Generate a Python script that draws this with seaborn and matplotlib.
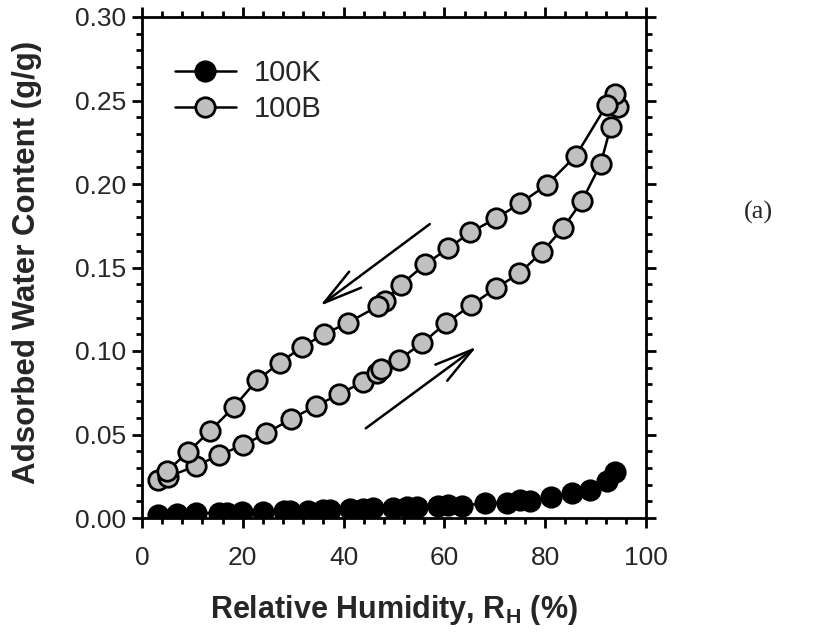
import matplotlib
matplotlib.use("Agg")
import matplotlib.pyplot as plt
import seaborn as sns
import pandas as pd
import numpy as np

# ---------------- data ----------------
rh_100K = [3.2, 6.9, 10.8, 15.2, 16.8, 19.8, 24.1, 28.1, 29.4, 33.0, 36.0, 37.3,
           41.3, 43.9, 45.9, 49.9, 52.5, 54.5, 58.8, 60.8, 63.4, 68.1, 72.4, 75.0,
           77.0, 81.1, 85.3, 88.9, 92.3, 93.8]
w_100K = [0.0020, 0.0025, 0.0028, 0.0030, 0.0032, 0.0034, 0.0037, 0.0040, 0.0042,
          0.0044, 0.0047, 0.0049, 0.0051, 0.0054, 0.0057, 0.0060, 0.0065, 0.0068,
          0.0070, 0.0075, 0.0072, 0.0090, 0.0088, 0.0105, 0.0104, 0.0124, 0.0148,
          0.0168, 0.0222, 0.0274]

rh_100B = [3.2, 5.2, 10.8, 15.3, 20.1, 24.6, 29.6, 34.5, 39.1, 43.9, 46.6, 47.4,
           50.9, 55.5, 60.4, 65.3, 70.2, 74.9, 79.3, 83.5, 87.3, 91.0, 93.0, 94.5,
           93.8,
           92.2, 86.1, 80.3, 75.0, 70.3, 65.1, 60.8, 56.2, 51.3, 48.2, 46.9, 40.9,
           36.1, 31.7, 27.3, 22.8, 18.3, 13.5, 9.2, 4.9]
w_100B = [0.0228, 0.0247, 0.0313, 0.0377, 0.0437, 0.0507, 0.0593, 0.0671, 0.0741,
          0.0816, 0.0870, 0.0890, 0.0946, 0.1046, 0.1168, 0.1275, 0.1375, 0.1467,
          0.1590, 0.1735, 0.1898, 0.2120, 0.2343, 0.2463, 0.2540,
          0.2473, 0.2170, 0.1994, 0.1884, 0.1795, 0.1710, 0.1615, 0.1520, 0.1395,
          0.1300, 0.1270, 0.1170, 0.1100, 0.1024, 0.0928, 0.0825, 0.0667, 0.0521,
          0.0397, 0.0279]

series_labels = ["100K", "100B"]
x_ticks = [0, 20, 40, 60, 80, 100]
y_ticks = [0.00, 0.05, 0.10, 0.15, 0.20, 0.25, 0.30]

# arrows (data coords): (start, end)
arrow_desorb = ((57.1, 0.176), (35.3, 0.127))
arrow_adsorb = ((44.4, 0.0537), (66.4, 0.1026))

# ---------------- style ----------------
sns.set_theme(style="ticks")
plt.rcParams["font.family"] = ["Liberation Sans", "DejaVu Sans"]
plt.rcParams["mathtext.fontset"] = "custom"
plt.rcParams["mathtext.rm"] = "Liberation Sans"
plt.rcParams["mathtext.bf"] = "Liberation Sans:bold"

fig = plt.figure(figsize=(8.22, 6.34), dpi=100)
ax = fig.add_axes([142 / 822, 1 - 518 / 634, (646 - 142) / 822, (518 - 17) / 634])

df_k = pd.DataFrame({"RH": rh_100K, "W": w_100K})
df_b = pd.DataFrame({"RH": rh_100B, "W": w_100B})

ms = 14
sns.lineplot(data=df_b, x="RH", y="W", sort=False, ax=ax, color="black", lw=1.8,
             marker="o", markersize=ms, markerfacecolor="#C0C0C0",
             markeredgecolor="black", markeredgewidth=2.0, label=series_labels[1],
             zorder=3)
sns.lineplot(data=df_k, x="RH", y="W", sort=False, ax=ax, color="black", lw=1.8,
             marker="o", markersize=ms, markerfacecolor="black",
             markeredgecolor="black", markeredgewidth=2.0, label=series_labels[0],
             zorder=4)

ax.set_xlim(0, 100)
ax.set_ylim(0, 0.30)
ax.set_xticks(x_ticks)
ax.set_yticks(y_ticks)
ax.set_xticklabels([str(t) for t in x_ticks])
ax.set_yticklabels([f"{t:.2f}" for t in y_ticks])
ax.set_xticks(np.arange(0, 101, 4), minor=True)
ax.set_yticks(np.arange(0, 0.3001, 0.01), minor=True)

for sp in ax.spines.values():
    sp.set_linewidth(2.0)
    sp.set_color("black")

ax.tick_params(axis="both", which="both", direction="out", top=True, right=True,
               color="black", width=2.0)
ax.tick_params(axis="both", which="major", length=7.5, labelsize=19)
ax.tick_params(axis="both", which="minor", length=4.5)
ax.tick_params(axis="y", which="major", pad=4)
ax.tick_params(axis="x", which="major", pad=13)

ax.set_xlabel(r"Relative Humidity, R$_\mathbf{H}$ (%)", fontsize=22, fontweight="bold")
ax.set_ylabel("Adsorbed Water Content (g/g)", fontsize=22.5, fontweight="bold")
ax.xaxis.set_label_coords(0.5, -0.150)
ax.yaxis.set_label_coords(-0.198, 0.51)

# legend
handles, labels = ax.get_legend_handles_labels()
order = [labels.index(series_labels[0]), labels.index(series_labels[1])]
leg = ax.legend([handles[i] for i in order], [labels[i] for i in order],
                loc="upper left", frameon=False, fontsize=21, handlelength=2.1,
                handletextpad=0.6, labelspacing=0.29, borderpad=0.4,
                bbox_to_anchor=(0.042, 0.940), borderaxespad=0)

# arrows
for (s, e) in (arrow_desorb, arrow_adsorb):
    ax.annotate("", xy=e, xytext=s,
                arrowprops=dict(arrowstyle="->,head_length=1.4,head_width=0.36",
                                mutation_scale=20, lw=1.8, color="black",
                                shrinkA=0, shrinkB=0))

fig.text(758 / 822, 1 - 212 / 634, "(a)", family=["Liberation Serif", "DejaVu Serif"],
         fontsize=19, ha="center", va="center")

fig.savefig("out.png", dpi=100, facecolor="white")
